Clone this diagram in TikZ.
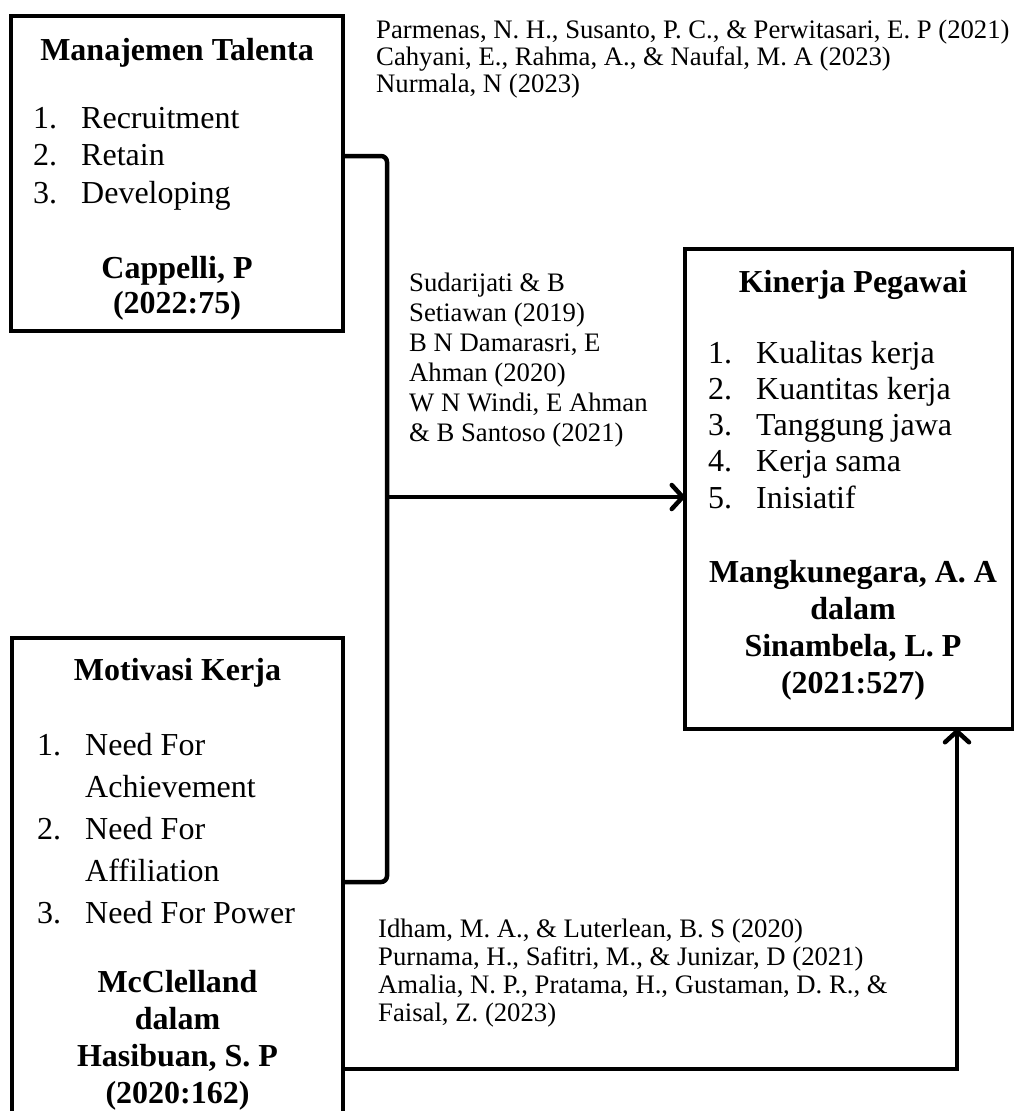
\documentclass[tikz,border=0pt]{standalone}
\usepackage{fontspec}
\setmainfont{Liberation Serif}
\usetikzlibrary{arrows.meta}
\newcommand\lnum[1]{\makebox[48pt][l]{#1}}

\begin{document}
\begin{tikzpicture}[x=1pt, y=-1pt,
    box/.style={draw, line width=4.5pt, inner sep=0pt, outer sep=0pt},
    head/.style={font=\fontsize{32}{#1}\selectfont\bfseries, align=center, anchor=base, inner sep=0pt},
    items/.style={font=\fontsize{32}{#1}\selectfont, align=left, anchor=base west, inner sep=0pt},
    refs/.style={font=\fontsize{26.7}{#1}\selectfont, align=left, anchor=base west, inner sep=0pt},
    link/.style={line width=4.5pt},
    arr/.style={link, -{Straight Barb[length=11pt, width=24pt, line width=4.5pt, round]}}]
    \clip (0,0) rectangle (1014,1111);
    % Boxes
    \node[box, minimum width=332pt, minimum height=315pt] (talenta) at (177,173.5) {};
    \node[box, minimum width=331pt, minimum height=490pt] (motivasi) at (177.5,883) {};
    \node[box, minimum width=328pt, minimum height=480pt] (kinerja) at (849,489) {};
    % Manajemen Talenta (multi-line nodes sit on their last baseline)
    \node[head=34] (talentahead) at (177,60) {Manajemen Talenta};
    \node[items=37.5] (talentalist) at (33,203) {\lnum{1.}Recruitment\\\lnum{2.}Retain\\\lnum{3.}Developing};
    \node[head=35] (talentasrc) at (177,313) {Cappelli, P\\(2022:75)};
    % Motivasi Kerja
    \node[head=34] (motivasihead) at (177.5,680) {Motivasi Kerja};
    \node[items=42] (motivasilist) at (37,923) {\lnum{1.}Need For\\\lnum{}Achievement\\\lnum{2.}Need For\\\lnum{}Affiliation\\\lnum{3.}Need For Power};
    \node[head=36.7] (motivasisrc) at (177.5,1103) {McClelland\\dalam\\Hasibuan, S. P\\(2020:162)};
    % Kinerja Pegawai
    \node[head=34] (kinerjahead) at (853,292) {Kinerja Pegawai};
    \node[items=36.25] (kinerjalist) at (708,508) {\lnum{1.}Kualitas kerja\\\lnum{2.}Kuantitas kerja\\\lnum{3.}Tanggung jawa\\\lnum{4.}Kerja sama\\\lnum{5.}Inisiatif};
    \node[head=36.7] (kinerjasrc) at (853,693) {Mangkunegara, A. A\\dalam\\Sinambela, L. P\\(2021:527)};
    % References
    \node[refs=27] (refstop) at (376,92) {Parmenas, N. H., Susanto, P. C., \& Perwitasari, E. P (2021)\\Cahyani, E., Rahma, A., \& Naufal, M. A (2023)\\Nurmala, N (2023)};
    \node[refs=30] (refsmid) at (409,441) {Sudarijati \& B\\Setiawan (2019)\\B N Damarasri, E\\Ahman (2020)\\W N Windi, E Ahman\\\& B Santoso (2021)};
    \node[refs=27.7] (refsbot) at (378,1021) {Idham, M. A., \& Luterlean, B. S (2020)\\Purnama, H., Safitri, M., \& Junizar, D (2021)\\Amalia, N. P., Pratama, H., Gustaman, D. R., \&\\Faisal, Z. (2023)};
    % Connectors
    \coordinate (jointop) at (387,156);
    \coordinate (joinmid) at (387,497);
    \coordinate (joinbot) at (387,882);
    \coordinate (bend) at (957,1069);
    \draw[link, rounded corners=6pt] (talenta.east |- jointop) -- (jointop) -- (joinbot) -- (motivasi.east |- joinbot);
    \draw[arr] (joinmid) -- (kinerja.west |- joinmid);
    \draw[arr] (motivasi.east |- bend) -- (bend) -- (kinerja.south -| bend);
\end{tikzpicture}
\end{document}
